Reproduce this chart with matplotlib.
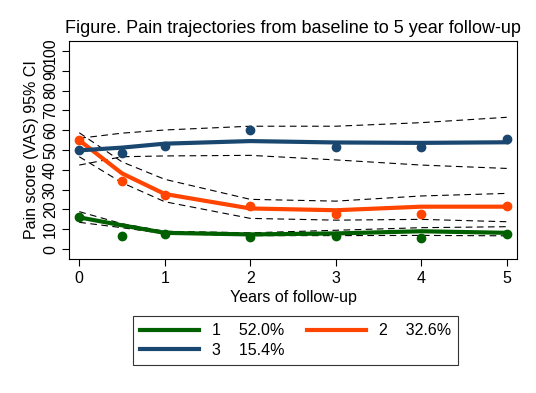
import numpy as np
import matplotlib
matplotlib.use('Agg')
import matplotlib.pyplot as plt

plt.rcParams['font.family'] = ['Liberation Sans', 'DejaVu Sans']

# years of follow-up
years = [0, 0.5, 1, 2, 3, 4, 5]

# observed means per trajectory group
obs1 = [16.0, 6.5, 7.5, 6.3, 6.5, 5.8, 7.5]
obs2 = [55.0, 34.5, 27.4, 21.9, 17.5, 17.5, 21.7]
obs3 = [50.0, 48.3, 52.0, 59.9, 51.7, 51.7, 55.6]

# fitted trajectories
fit1 = [16.0, 12.0, 8.2, 7.4, 7.9, 9.0, 8.2]
fit2 = [54.9, 38.2, 27.8, 20.5, 19.6, 21.4, 21.4]
fit3 = [49.8, 51.2, 53.2, 54.5, 53.8, 53.6, 53.9]

# 95% CI bounds
up1 = [18.9, 12.8, 9.0, 8.2, 9.5, 10.8, 11.3]
lo1 = [13.5, 10.8, 7.8, 6.8, 6.8, 6.9, 6.7]
up2 = [58.7, 44.0, 35.2, 25.1, 24.2, 26.8, 28.1]
lo2 = [46.6, 33.5, 23.9, 15.5, 14.6, 15.0, 13.8]
up3 = [55.9, 58.5, 60.1, 62.0, 62.0, 63.8, 66.5]
lo3 = [42.4, 46.6, 47.0, 47.3, 45.0, 42.4, 40.7]

labels = ['1    52.0%', '2    32.6%', '3    15.4%']
colors = ['#006000', '#ff4500', '#1a476f']

fig = plt.figure(figsize=(5.36, 3.93), dpi=100)
ax = fig.add_axes([69/536, 1-259/393, 448/536, 218/393])

groups = [(obs1, fit1, up1, lo1), (obs2, fit2, up2, lo2), (obs3, fit3, up3, lo3)]
handles = []
for (o, f, u, l), c, lab in zip(groups, colors, labels):
    ax.plot(years, u, color='black', lw=0.8, ls=(0, (6, 4)))
    ax.plot(years, l, color='black', lw=0.8, ls=(0, (6, 4)))
for (o, f, u, l), c, lab in zip(groups, colors, labels):
    h, = ax.plot(years, f, color=c, lw=3, label=lab)
    ax.plot(years, o, 'o', color=c, ms=6)
    handles.append(h)

ax.set_xlim(-0.12, 5.12)
ax.set_ylim(-5, 105)
ax.set_xticks([0, 1, 2, 3, 4, 5])
ax.set_yticks(range(0, 101, 10))
ax.set_yticklabels([str(v) for v in range(0, 101, 10)], rotation=90, va='center')
ax.tick_params(axis='both', labelsize=11.5, direction='out', length=5, width=0.8)
ax.tick_params(axis='y', pad=3)
ax.set_xlabel('Years of follow-up', fontsize=11.5, labelpad=3)
ax.set_ylabel('Pain score (VAS) 95% CI', fontsize=11.5, labelpad=3)
ax.set_title('Figure. Pain trajectories from baseline to 5 year follow-up', fontsize=13, pad=6)

# legend order: 1, 2 on first row, 3 on second
leg = fig.legend([handles[0], handles[2], handles[1]], [labels[0], labels[2], labels[1]],
                 ncol=2, loc='upper left', bbox_to_anchor=(133/536, 1-316/393),
                 frameon=True, fancybox=False, edgecolor='black', fontsize=11.5,
                 handlelength=3.7, columnspacing=1.4, handletextpad=0.8,
                 borderpad=0.45, labelspacing=0.3, borderaxespad=0)
leg.get_frame().set_linewidth(0.8)

fig.savefig('out.png', dpi=100)
